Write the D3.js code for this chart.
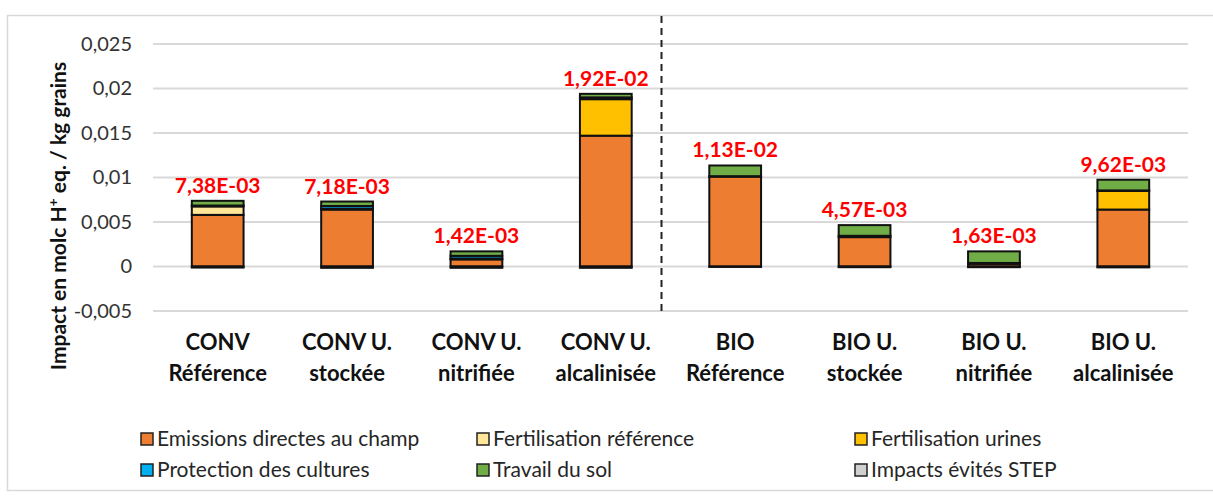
<!DOCTYPE html>
<html>
<head>
<meta charset="utf-8">
<script src="https://cdn.jsdelivr.net/npm/d3@7"></script>
<style>
  body { margin: 0; background: #fff; }
  text { font-family: Lato, "Open Sans", sans-serif; }
</style>
</head>
<body>
<div class="chart-js"></div>
<script>
'use strict';

// Categories (two lines each)
var categories = ['CONV|Référence', 'CONV U.|stockée', 'CONV U.|nitrifiée', 'CONV U.|alcalinisée',
                  'BIO|Référence', 'BIO U.|stockée', 'BIO U.|nitrifiée', 'BIO U.|alcalinisée'];

// Series values (molc H+ eq. / kg grains)
var emissions   = [0.0058, 0.0064, 0.0008, 0.0147, 0.0101, 0.0033, 0.0003, 0.0064];
var fertRef     = [0.00095, 0, 0, 0, 0, 0, 0, 0];
var fertUrines  = [0, 0.0001, 0.0001, 0.0041, 0, 0, 0, 0.0021];
var protection  = [0.0001, 0.0003, 0.0003, 0.0002, 0.00005, 0.00015, 0.0001, 0.00005];
var travail     = [0.00053, 0.0005, 0.0005, 0.0004, 0.0012, 0.0012, 0.0013, 0.0012];
var evites      = [-0.00012, -0.00015, -0.00015, -0.00015, -0.00005, -0.00008, -0.00008, -0.0001];

// Total labels
var totals = ['7,38E-03', '7,18E-03', '1,42E-03', '1,92E-02', '1,13E-02', '4,57E-03', '1,63E-03', '9,62E-03'];

// Y ticks
var yTicks = [-0.005, 0, 0.005, 0.01, 0.015, 0.02, 0.025];

var seriesNames = ['Emissions directes au champ', 'Fertilisation référence', 'Fertilisation urines',
                   'Protection des cultures', 'Travail du sol', 'Impacts évités STEP'];
var seriesColors = ['#ED7D31', '#FFE699', '#FFC000', '#00B0F0', '#70AD47', '#D0D0D0'];

var margin = {top: 44, right: 25, bottom: 186, left: 153};
var owidth = 1213, oheight = 497;
var cwidth = owidth - margin.left - margin.right;
var cheight = oheight - margin.top - margin.bottom;

var seriesArrays = [emissions, fertRef, fertUrines, protection, travail, evites];
var table = categories.map(function(c, i) {
  var row = {cat: c};
  seriesNames.forEach(function(s, k) { row[s] = seriesArrays[k][i]; });
  return row;
});

var stack = d3.stack().keys(seriesNames).offset(d3.stackOffsetDiverging);
var layers = stack(table);

var x = d3.scaleBand().domain(categories).range([0, cwidth])
  .paddingInner(0.6).paddingOuter(0.3);
var y = d3.scaleLinear().domain([-0.005, 0.025]).range([cheight, 0]);

var fmt = function(d) { return d === 0 ? '0' : String(d).replace('.', ','); };

var svg = d3.select('.chart-js').append('svg')
  .attr('width', owidth).attr('height', oheight);

// outer frame
svg.append('rect')
  .attr('x', 7.5).attr('y', 15.5).attr('width', 1220).attr('height', 475)
  .attr('fill', 'none').attr('stroke', '#d9d9d9').attr('stroke-width', 1.5);

var chart = svg.append('g')
  .attr('transform', 'translate(' + margin.left + ',' + margin.top + ')');

// gridlines
chart.append('g').selectAll('line').data(yTicks).enter().append('line')
  .attr('x1', 0).attr('x2', cwidth)
  .attr('y1', function(d) { return y(d); }).attr('y2', function(d) { return y(d); })
  .attr('stroke', '#d9d9d9').attr('stroke-width', 2);

// y axis labels
var yAxis = d3.axisLeft(y).tickValues(yTicks).tickFormat(fmt).tickSize(0).tickPadding(21);
var ya = chart.append('g').call(yAxis);
ya.select('.domain').remove();
ya.selectAll('text').style('font-family', 'Lato, sans-serif').style('font-size', '20px').attr('fill', '#333');

// bars
chart.append('g').selectAll('g').data(layers).enter().append('g')
  .attr('fill', function(d, i) { return seriesColors[i]; })
  .selectAll('rect').data(function(d) { return d; }).enter()
  .filter(function(d) { return d[1] !== d[0]; })
  .append('rect')
  .attr('x', function(d) { return x(d.data.cat); })
  .attr('width', x.bandwidth())
  .attr('y', function(d) { return y(Math.max(d[0], d[1])); })
  .attr('height', function(d) { return Math.abs(y(d[0]) - y(d[1])); })
  .attr('stroke', '#111').attr('stroke-width', 2);

// total labels
chart.append('g').selectAll('text').data(table).enter().append('text')
  .attr('x', function(d) { return x(d.cat) + x.bandwidth() / 2; })
  .attr('y', function(d, i) {
    var top = d3.sum(seriesArrays, function(s) { return Math.max(0, s[i]); });
    return y(top) - 8;
  })
  .attr('text-anchor', 'middle')
  .attr('fill', '#FF0000').style('font-weight', 'bold').style('font-size', '21px')
  .text(function(d, i) { return totals[i]; });

// separator between CONV and BIO
var sepX = x(categories[4]) - x.step() * x.paddingInner() / 2 - 9;
chart.append('line')
  .attr('x1', sepX).attr('x2', sepX)
  .attr('y1', -28).attr('y2', cheight + 2)
  .attr('stroke', '#222').attr('stroke-width', 2).attr('stroke-dasharray', '7,5');

// category labels
var xl = chart.append('g').attr('transform', 'translate(0,' + cheight + ')');
xl.selectAll('text').data(categories).enter().append('text')
  .attr('x', function(d) { return x(d) + x.bandwidth() / 2; })
  .attr('y', 39)
  .attr('text-anchor', 'middle')
  .style('font-weight', 'bold').style('font-size', '22px').attr('fill', '#111')
  .each(function(d) {
    var parts = d.split('|');
    var t = d3.select(this);
    t.append('tspan').attr('x', t.attr('x')).attr('dy', 0).text(parts[0]);
    t.append('tspan').attr('x', t.attr('x')).attr('dy', 31).text(parts[1]);
  });

// y title
var yt = svg.append('text')
  .attr('transform', 'translate(66,216) rotate(-90)')
  .attr('text-anchor', 'middle')
  .style('font-weight', 'bold').style('font-size', '21px').attr('fill', '#111');
yt.append('tspan').text('Impact en molc H');
yt.append('tspan').attr('dy', -8).style('font-size', '14px').text('+');
yt.append('tspan').attr('dy', 8).text(' eq. / kg grains');

// legend
var legendX = [141, 477, 855];
var legendY = [439, 470];
var legend = svg.append('g').selectAll('g').data(seriesNames).enter().append('g')
  .attr('transform', function(d, i) {
    return 'translate(' + legendX[i % 3] + ',' + legendY[Math.floor(i / 3)] + ')';
  });
legend.append('rect')
  .attr('x', 0).attr('y', -6).attr('width', 12).attr('height', 12)
  .attr('fill', function(d, i) { return seriesColors[i]; })
  .attr('stroke', '#222').attr('stroke-width', 1.5);
legend.append('text')
  .attr('x', 16).attr('y', 7)
  .style('font-size', '21px').attr('fill', '#262626')
  .text(function(d) { return d; });
</script>
</body>
</html>
